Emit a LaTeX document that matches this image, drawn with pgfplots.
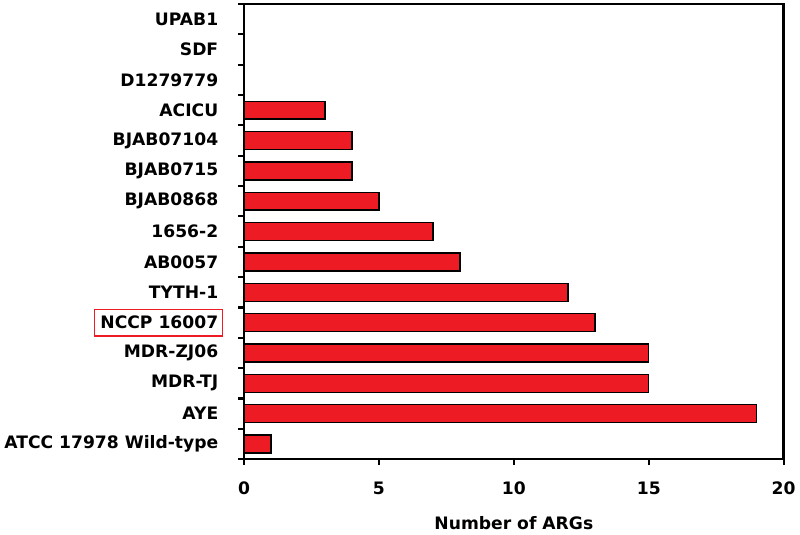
\documentclass[border=0pt]{standalone}
\usepackage{fontspec}
\setmainfont{DejaVu Sans}
\usepackage{pgfplots}
\pgfplotsset{compat=1.18}
\definecolor{barred}{RGB}{237,28,36}

\newcommand{\boxedlabel}[1]{\tikz[baseline=(n.base)]{\node[inner sep=0pt](n){#1};
    \draw[overlay, barred, line width=1.1pt] ([xshift=-4.5pt, yshift=-5pt]n.south west) rectangle ([xshift=3pt, yshift=5pt]n.north east);}}

\begin{document}
\begin{tikzpicture}
\begin{axis}[
    name=ax,
    scale only axis,
    width=409pt, height=345pt,
    xbar,
    bar width=0.59,
    xmin=0, xmax=20,
    ymin=-0.5, ymax=14.5,
    xtick={0,5,10,15,20},
    ytick={0,...,14},
    yticklabels={ATCC 17978 Wild-type, AYE, MDR-TJ, MDR-ZJ06,
        {\boxedlabel{NCCP 16007}},
        TYTH-1, AB0057, 1656-2, BJAB0868, BJAB0715, BJAB07104, ACICU,
        D1279779, SDF, UPAB1},
    minor ytick={-0.5,0.5,...,14.5},
    major y tick style={draw=none},
    tick align=outside,
    xtick pos=left, ytick pos=left,
    major tick length=4.5pt, minor tick length=4.5pt,
    tick style={black, line width=1.6pt},
    axis line style={line width=1.8pt},
    tick label style={font=\fontsize{13}{15}\selectfont\bfseries},
    /pgf/number format/assume math mode=true,
    yticklabel style={xshift=-11.5pt},
    xticklabel style={yshift=-9pt},
    xlabel={Number of ARGs},
    xlabel style={font=\fontsize{13}{15}\selectfont\bfseries, at={(axis description cs:0.5,0)}, anchor=base, yshift=-53pt},
]
\addplot[fill=barred, draw=black, line width=1.1pt] coordinates {
    (1,0) (19,1) (15,2) (15,3) (13,4) (12,5) (8,6) (7,7)
    (5,8) (4,9) (4,10) (3,11) (0,12) (0,13) (0,14)
};
\end{axis}
\draw[black, line width=1.8pt] (ax.south west) -- (ax.north west) -- (ax.north east) -- (ax.south east) -- cycle;
\useasboundingbox ([xshift=-181.5pt, yshift=-57pt]ax.south west) rectangle ([xshift=9pt, yshift=3pt]ax.north east);
\end{tikzpicture}
\end{document}
